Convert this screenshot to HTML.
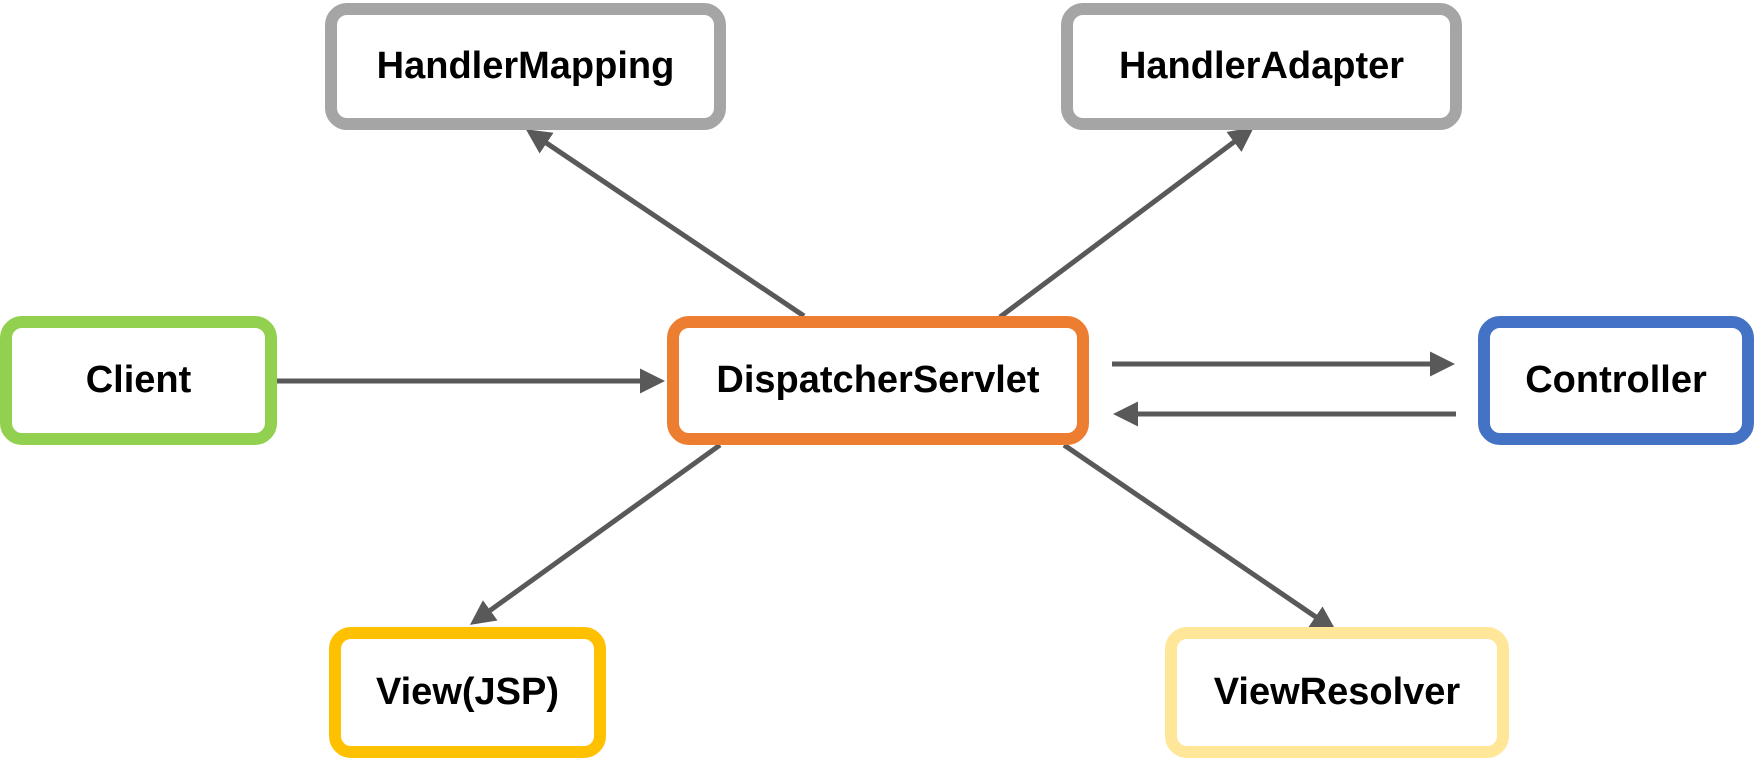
<!DOCTYPE html>
<html><head><style>
body{margin:0;width:1754px;height:761px;background:#fff;overflow:hidden;position:relative;font-family:"Liberation Sans",sans-serif}
.b{position:absolute;box-sizing:border-box;border:12px solid;border-radius:22px;background:#fff;display:flex;align-items:center;justify-content:center;font-weight:bold;font-size:38px;color:#000}
svg{position:absolute;left:0;top:0}
</style></head><body>
<svg width="1754" height="761">
<defs><marker id="a" markerWidth="5" markerHeight="5" refX="4" refY="2.5" orient="auto"><path d="M0,0 L5,2.5 L0,5z" fill="#595959"/></marker></defs>
<g stroke="#595959" stroke-width="5" marker-end="url(#a)">
<line x1="271" y1="381" x2="660" y2="381"/>
<line x1="1112" y1="364" x2="1450" y2="364"/>
<line x1="1456" y1="414" x2="1118" y2="414"/>
<line x1="804" y1="316" x2="530" y2="132"/>
<line x1="1000" y1="317" x2="1250" y2="130"/>
<line x1="720" y1="445" x2="474" y2="622"/>
<line x1="1064" y1="445" x2="1332" y2="628"/>
</g></svg>
<div class="b" style="left:325px;top:3px;width:401px;height:127px;border-color:#a5a5a5">HandlerMapping</div>
<div class="b" style="left:1061px;top:3px;width:401px;height:127px;border-color:#a5a5a5">HandlerAdapter</div>
<div class="b" style="left:0;top:316px;width:277px;height:129px;border-color:#92d050">Client</div>
<div class="b" style="left:667px;top:316px;width:422px;height:129px;border-color:#ed7d31">DispatcherServlet</div>
<div class="b" style="left:1478px;top:316px;width:276px;height:129px;border-color:#4472c4">Controller</div>
<div class="b" style="left:329px;top:627px;width:277px;height:131px;border-color:#ffc000">View(JSP)</div>
<div class="b" style="left:1165px;top:627px;width:344px;height:131px;border-color:#ffe699">ViewResolver</div>
</body></html>
